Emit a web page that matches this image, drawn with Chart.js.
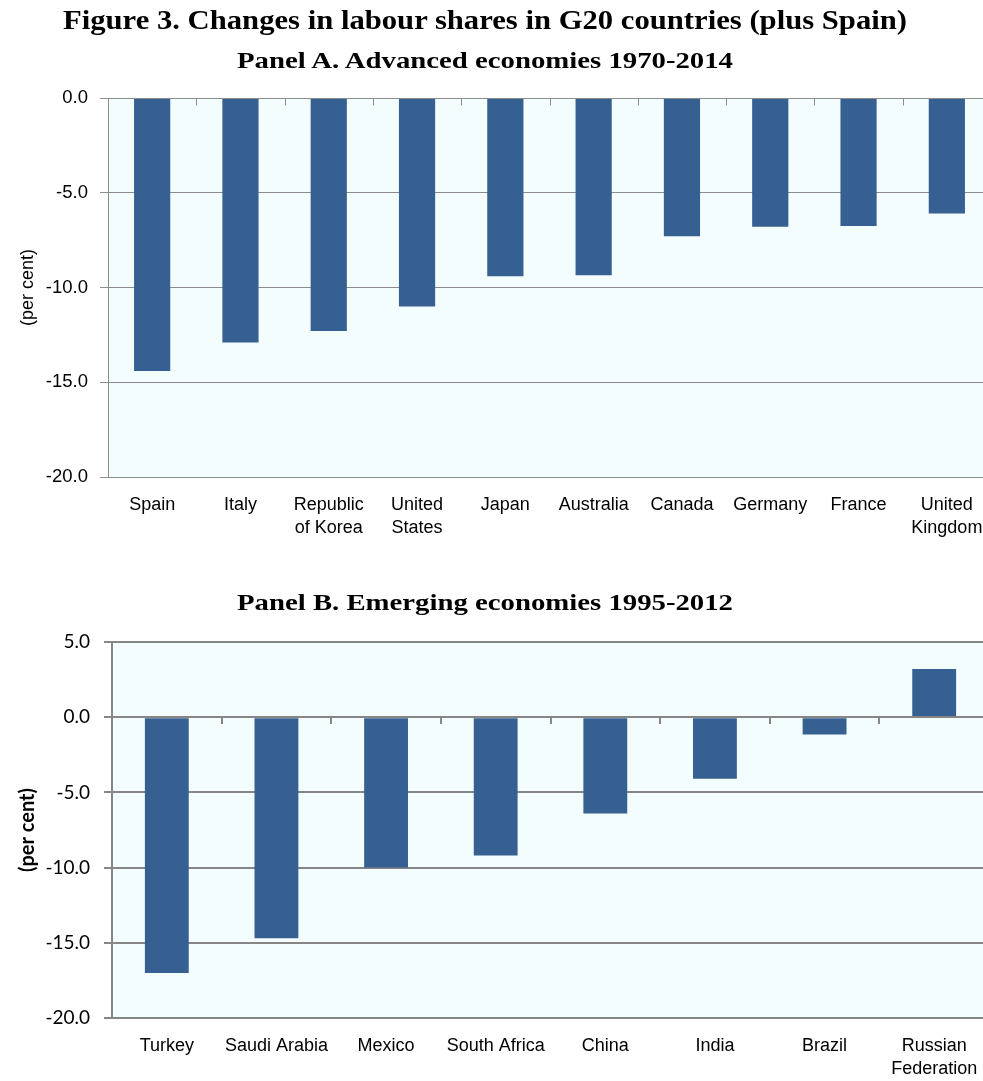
<!DOCTYPE html>
<html>
<head>
<meta charset="utf-8">
<script src="https://cdn.jsdelivr.net/npm/chart.js@4.4.0/dist/chart.umd.min.js"></script>
<style>
  html, body { margin: 0; padding: 0; background: #fff; width: 983px; height: 1081px; overflow: hidden; position: relative; }
  .title { position: absolute; left: 485px; white-space: nowrap; font-family: 'Liberation Serif', 'DejaVu Serif', serif; font-weight: bold; color: #000; line-height: 1; transform-origin: left top; }
  #wrapA { position: absolute; left: 0; top: 0; width: 991px; height: 545px; }
  #wrapB { position: absolute; left: 0; top: 575px; width: 989px; height: 506px; }
</style>
</head>
<body>
<div id="wrapA"><canvas id="chartA" width="991" height="545" style="width:991px;height:545px"></canvas></div>
<div id="wrapB"><canvas id="chartB" width="989" height="506" style="width:989px;height:506px"></canvas></div>
<div class="title" id="figTitle" style="top:6px;font-size:28px" data-w="844">Figure 3. Changes in labour shares in G20 countries (plus Spain)</div>
<div class="title" id="titleA" style="top:48px;font-size:24px" data-w="496">Panel A. Advanced economies 1970-2014</div>
<div class="title" id="titleB" style="top:590px;font-size:24px" data-w="496">Panel B. Emerging economies 1995-2012</div>
<script>
// Change in labour share, percentage points
const advCountries = ['Spain', 'Italy', ['Republic', 'of Korea'], ['United', 'States'], 'Japan', 'Australia', 'Canada', 'Germany', 'France', ['United', 'Kingdom']];
const advChange = [-14.4, -12.9, -12.3, -11.0, -9.4, -9.35, -7.3, -6.8, -6.75, -6.1];
const advTicks = [0, -5, -10, -15, -20];

const emgCountries = ['Turkey', 'Saudi Arabia', 'Mexico', 'South Africa', 'China', 'India', 'Brazil', ['Russian', 'Federation']];
const emgChange = [-17.0, -14.7, -10.0, -9.2, -6.4, -4.1, -1.15, 3.2];
const emgTicks = [5, 0, -5, -10, -15, -20];

const BAR = '#366092';
const PLOT_BG = '#f3fdfe';
const SANS = "'Liberation Sans', Arial, sans-serif";

// Titles: stretch the serif face to the printed line width
function fitTitle(el) {
  el.style.transform = 'none';
  const w = el.getBoundingClientRect().width;
  const k = (+el.dataset.w) / w;
  el.style.transform = `translateX(${-(+el.dataset.w) / 2}px) scaleX(${k})`;
}
function fitAll() { document.querySelectorAll('.title').forEach(fitTitle); }
fitAll();
if (document.fonts && document.fonts.ready) document.fonts.ready.then(fitAll);

// Pale plot background, plus the zero axis and its category tick marks drawn over the bars
const plotFrame = {
  id: 'plotFrame',
  beforeDraw(chart, args, opts) {
    const { ctx, chartArea: a } = chart;
    ctx.save();
    ctx.fillStyle = opts.fill;
    ctx.fillRect(a.left, a.top, a.right - a.left, a.bottom - a.top);
    ctx.restore();
  },
  afterDatasetsDraw(chart, args, opts) {
    const { ctx, chartArea: a } = chart;
    const xs = chart.scales.x, ys = chart.scales.y;
    const lw = opts.lineWidth;
    const al = v => (lw % 2 ? Math.round(v) + 0.5 : Math.round(v));
    const y0 = al(ys.getPixelForValue(0));
    ctx.save();
    ctx.strokeStyle = opts.color;
    ctx.lineWidth = lw;
    ctx.beginPath();
    ctx.moveTo(a.left, y0);
    ctx.lineTo(a.right, y0);
    const n = chart.data.labels.length;
    for (let i = 1; i <= n; i++) {
      const bx = al(i < n ? (xs.getPixelForValue(i - 1) + xs.getPixelForValue(i)) / 2
                          : xs.getPixelForValue(n - 1) + (xs.getPixelForValue(n - 1) - xs.getPixelForValue(n - 2)) / 2);
      ctx.moveTo(bx, y0);
      ctx.lineTo(bx, y0 + opts.tickLen);
    }
    ctx.stroke();
    ctx.restore();
  }
};

function makeChart(id, labels, values, ticks, cfg) {
  return new Chart(document.getElementById(id), {
    type: 'bar',
    data: {
      labels: labels,
      datasets: [{ data: values, backgroundColor: BAR, borderWidth: 0, categoryPercentage: 1, barPercentage: cfg.barPct }]
    },
    options: {
      responsive: false,
      animation: false,
      events: [],
      layout: { padding: { top: cfg.padTop, left: 0, right: 0, bottom: 0 } },
      plugins: {
        legend: { display: false },
        tooltip: { enabled: false },
        plotFrame: { fill: PLOT_BG, color: cfg.gridColor, lineWidth: cfg.gridWidth, tickLen: 7 }
      },
      scales: {
        x: {
          type: 'category',
          offset: true,
          grid: { display: false, drawTicks: false },
          border: { display: false },
          ticks: {
            autoSkip: false, maxRotation: 0, minRotation: 0, padding: cfg.xPad,
            color: '#000',
            font: { family: SANS, size: 18, lineHeight: 1.3 }
          },
          afterFit: s => { s.height = cfg.xHeight; s.paddingLeft = 0; s.paddingRight = 0; }
        },
        y: {
          min: Math.min(...ticks),
          max: Math.max(...ticks),
          afterBuildTicks: s => { s.ticks = ticks.slice().sort((p, q) => p - q).map(v => ({ value: v })); },
          grid: { color: cfg.gridColor, lineWidth: cfg.gridWidth, tickLength: 8, drawTicks: true },
          border: { display: true, color: cfg.gridColor, width: cfg.gridWidth },
          ticks: {
            padding: cfg.yPad,
            color: '#000',
            font: cfg.yFont,
            callback: v => v.toFixed(1)
          },
          title: {
            display: true,
            text: '(per cent)',
            color: '#000',
            font: cfg.titleFont,
            padding: { top: cfg.titlePad, bottom: 0 }
          },
          afterFit: s => { s.width = cfg.yWidth; }
        }
      }
    },
    plugins: [plotFrame]
  });
}

makeChart('chartA', advCountries, advChange, advTicks, {
  barPct: 0.41, padTop: 98, xHeight: 68, xPad: 16, yWidth: 108, yPad: 12,
  gridColor: '#8c8c8c', gridWidth: 1,
  yFont: { family: SANS, size: 18.5 },
  titleFont: { family: SANS, size: 18, lineHeight: 1.2 },
  titlePad: 17
});

makeChart('chartB', emgCountries, emgChange, emgTicks, {
  barPct: 0.40, padTop: 67, xHeight: 63, xPad: 16, yWidth: 112, yPad: 14,
  gridColor: '#868686', gridWidth: 2,
  yFont: { family: "Lato, 'Open Sans', sans-serif", size: 19 },
  titleFont: { family: "Lato, 'Open Sans', sans-serif", size: 20, weight: 'bold', lineHeight: 1.2 },
  titlePad: 16
});
</script>
</body>
</html>
